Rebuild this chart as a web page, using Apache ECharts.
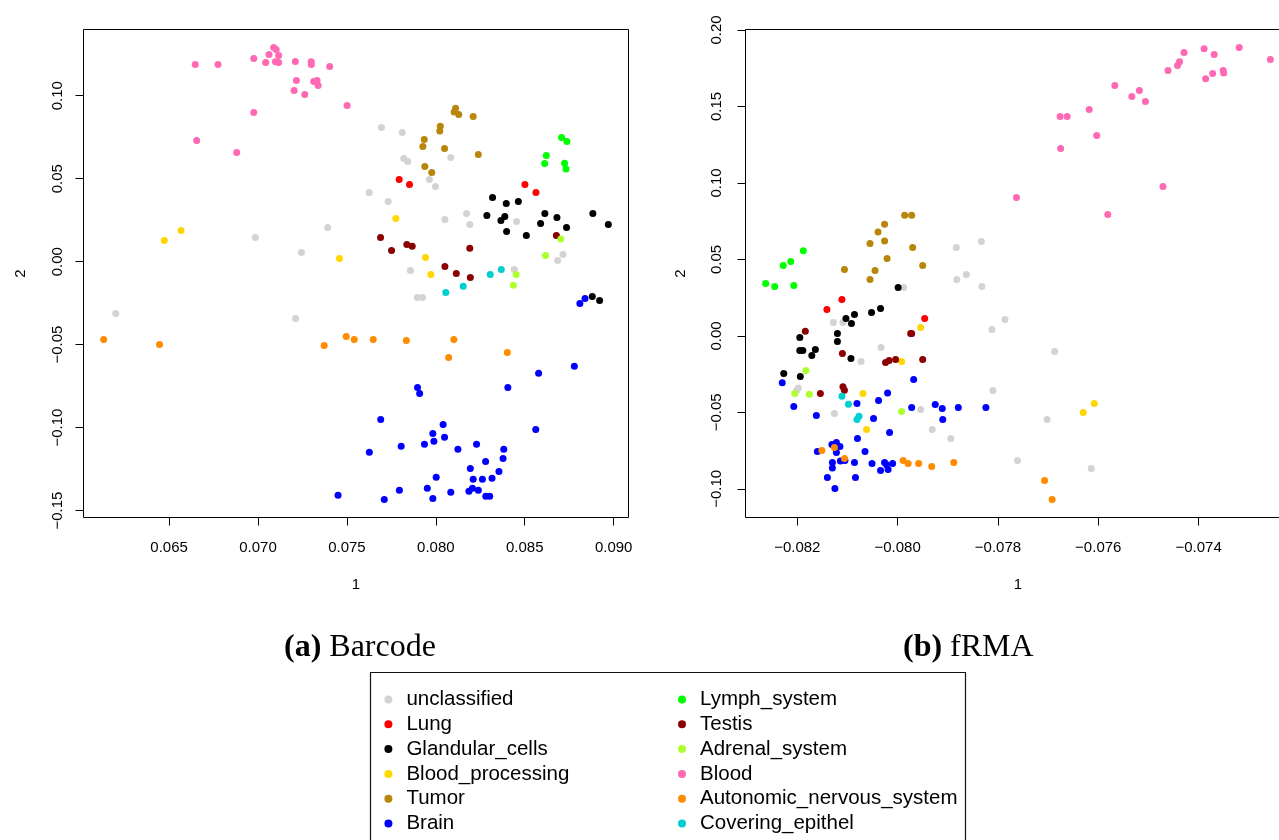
<!DOCTYPE html>
<html>
<head>
<meta charset="utf-8">
<script src="https://cdn.jsdelivr.net/npm/echarts@6/dist/echarts.min.js"></script>
<style>
  html, body { margin: 0; padding: 0; background: #ffffff; overflow: hidden; }
  /* the right-hand panel runs past the page edge, so the canvas is a little wider than the window */
  #chart { width: 1300px; height: 840px; }
</style>
</head>
<body>
<div id="chart"></div>
<script>
// ---- Category names (legend order, column by column) ----
const categories = [
  'unclassified', 'Lung', 'Glandular_cells', 'Blood_processing', 'Tumor', 'Brain',
  'Lymph_system', 'Testis', 'Adrenal_system', 'Blood', 'Autonomic_nervous_system', 'Covering_epithel'
];

// ---- Panel (a): Barcode, MDS coordinates [dim 1, dim 2] ----
const barcodeUnclassified = [[0.06200,-0.0312],[0.07211,-0.0342],[0.06985,0.0146],[0.07244,0.0055],[0.07392,0.0206],[0.07694,0.0808],[0.07811,0.0778],[0.07820,0.0622],[0.07842,0.0604],[0.08084,0.0628],[0.07964,0.0495],[0.07998,0.0453],[0.07625,0.0417],[0.07732,0.0363],[0.08051,0.0254],[0.08173,0.0290],[0.08191,0.0224],[0.08454,0.0242],[0.08715,0.0043],[0.08685,0.0007],[0.07857,-0.0053],[0.08441,-0.0047],[0.07896,-0.0216],[0.07925,-0.0216]];
const barcodeLung = [[0.07794,0.0495],[0.07852,0.0465],[0.08501,0.0465],[0.08563,0.0417]];
const barcodeGlandular = [[0.08319,0.0387],[0.08396,0.0351],[0.08464,0.0363],[0.08287,0.0278],[0.08388,0.0272],[0.08366,0.0248],[0.08398,0.0182],[0.08509,0.0158],[0.08613,0.0290],[0.08681,0.0266],[0.08589,0.0230],[0.08735,0.0206],[0.08883,0.0290],[0.08970,0.0224],[0.08880,-0.0210],[0.08921,-0.0234]];
const barcodeBloodProcessing = [[0.06567,0.0188],[0.06473,0.0128],[0.07458,0.0019],[0.07775,0.0260],[0.07942,0.0025],[0.07972,-0.0077]];
const barcodeTumor = [[0.08111,0.0925],[0.08103,0.0902],[0.08129,0.0887],[0.08210,0.0875],[0.08025,0.0816],[0.08022,0.0788],[0.07935,0.0736],[0.07927,0.0694],[0.08049,0.0682],[0.08239,0.0646],[0.07938,0.0573],[0.07977,0.0537]];
const barcodeBrain = [[0.08839,-0.0222],[0.08810,-0.0252],[0.08779,-0.0631],[0.08578,-0.0673],[0.07897,-0.0758],[0.07909,-0.0794],[0.08405,-0.0758],[0.07690,-0.0951],[0.08041,-0.0981],[0.07983,-0.1035],[0.08049,-0.1059],[0.08562,-0.1011],[0.07989,-0.1083],[0.07936,-0.1101],[0.07805,-0.1113],[0.07626,-0.1149],[0.08229,-0.1101],[0.08124,-0.1131],[0.08382,-0.1131],[0.08378,-0.1186],[0.08280,-0.1204],[0.08194,-0.1246],[0.08355,-0.1264],[0.08210,-0.1312],[0.08262,-0.1312],[0.08316,-0.1306],[0.08002,-0.1300],[0.07952,-0.1366],[0.07795,-0.1378],[0.08084,-0.1390],[0.08186,-0.1384],[0.08206,-0.1366],[0.08239,-0.1378],[0.08281,-0.1414],[0.08303,-0.1414],[0.07983,-0.1427],[0.07710,-0.1433],[0.07450,-0.1408]];
const barcodeLymph = [[0.08707,0.0748],[0.08737,0.0724],[0.08621,0.0640],[0.08612,0.0592],[0.08724,0.0593],[0.08732,0.0559]];
const barcodeTestis = [[0.07689,0.0146],[0.07751,0.0067],[0.07837,0.0104],[0.07867,0.0092],[0.08191,0.0080],[0.08051,-0.0029],[0.08115,-0.0071],[0.08194,-0.0095],[0.08678,0.0158]];
const barcodeAdrenal = [[0.08703,0.0137],[0.08617,0.0037],[0.08452,-0.0077],[0.08436,-0.0143]];
const barcodeBlood = [[0.06647,0.1188],[0.06775,0.1188],[0.06976,0.1224],[0.07043,0.1200],[0.07062,0.1248],[0.07088,0.1290],[0.07102,0.1278],[0.07116,0.1242],[0.07098,0.1204],[0.07116,0.1200],[0.07210,0.1206],[0.07299,0.1204],[0.07300,0.1188],[0.07403,0.1176],[0.07216,0.1092],[0.07313,0.1086],[0.07332,0.1092],[0.07338,0.1061],[0.07203,0.1031],[0.07263,0.1007],[0.07501,0.0941],[0.06976,0.0899],[0.06655,0.0730],[0.06880,0.0658]];
const barcodeAutonomic = [[0.06132,-0.0469],[0.06446,-0.0499],[0.07372,-0.0505],[0.07496,-0.0451],[0.07541,-0.0469],[0.07648,-0.0469],[0.07834,-0.0475],[0.08101,-0.0469],[0.08072,-0.0577],[0.08402,-0.0547]];
const barcodeCovering = [[0.08368,-0.0047],[0.08306,-0.0077],[0.08154,-0.0149],[0.08056,-0.0186]];

// ---- Panel (b): fRMA, MDS coordinates [dim 1, dim 2] ----
const frmaUnclassified = [[-0.07883,0.0578],[-0.07833,0.0617],[-0.07863,0.0401],[-0.07882,0.0369],[-0.07832,0.0323],[-0.07988,0.0316],[-0.08128,0.0088],[-0.08109,0.0088],[-0.07786,0.0107],[-0.07812,0.0042],[-0.08033,-0.0076],[-0.08073,-0.0167],[-0.08198,-0.0340],[-0.08201,-0.0355],[-0.07810,-0.0357],[-0.08126,-0.0507],[-0.07954,-0.0481],[-0.07931,-0.0612],[-0.07894,-0.0671],[-0.07761,-0.0814],[-0.07687,-0.0102],[-0.07702,-0.0546],[-0.07614,-0.0867]];
const frmaLung = [[-0.08111,0.0238],[-0.08141,0.0173],[-0.07946,0.0114]];
const frmaGlandular = [[-0.07999,0.0316],[-0.08052,0.0153],[-0.08034,0.0179],[-0.08103,0.0114],[-0.08086,0.0140],[-0.08092,0.0081],[-0.08120,0.0016],[-0.08120,-0.0037],[-0.08195,-0.0010],[-0.08195,-0.0095],[-0.08189,-0.0095],[-0.08164,-0.0089],[-0.08171,-0.0128],[-0.08093,-0.0148],[-0.08227,-0.0246],[-0.08194,-0.0265]];
const frmaBloodProcessing = [[-0.07954,0.0055],[-0.07992,-0.0167],[-0.08069,-0.0376],[-0.08062,-0.0612],[-0.07608,-0.0442],[-0.07630,-0.0501]];
const frmaTumor = [[-0.07986,0.0789],[-0.07972,0.0789],[-0.08026,0.0730],[-0.08039,0.0680],[-0.08055,0.0604],[-0.08026,0.0621],[-0.07970,0.0578],[-0.08021,0.0506],[-0.07950,0.0460],[-0.08106,0.0434],[-0.08045,0.0427],[-0.08055,0.0369]];
const frmaBrain = [[-0.08230,-0.0307],[-0.07968,-0.0285],[-0.08020,-0.0373],[-0.08038,-0.0422],[-0.08081,-0.0442],[-0.08207,-0.0461],[-0.08162,-0.0520],[-0.07972,-0.0468],[-0.07925,-0.0448],[-0.07911,-0.0475],[-0.07879,-0.0468],[-0.07824,-0.0468],[-0.07910,-0.0546],[-0.08048,-0.0540],[-0.08016,-0.0631],[-0.08080,-0.0671],[-0.08131,-0.0710],[-0.08122,-0.0697],[-0.08115,-0.0723],[-0.08122,-0.0762],[-0.08160,-0.0756],[-0.08065,-0.0756],[-0.08114,-0.0817],[-0.08105,-0.0814],[-0.08130,-0.0827],[-0.08130,-0.0863],[-0.08086,-0.0827],[-0.08051,-0.0834],[-0.08026,-0.0827],[-0.08022,-0.0843],[-0.08010,-0.0834],[-0.08034,-0.0880],[-0.08019,-0.0873],[-0.08140,-0.0926],[-0.08084,-0.0926],[-0.08125,-0.0997]];
const frmaLymph = [[-0.08188,0.0556],[-0.08213,0.0486],[-0.08228,0.0460],[-0.08263,0.0342],[-0.08245,0.0323],[-0.08207,0.0329]];
const frmaTestis = [[-0.08184,0.0031],[-0.07974,0.0016],[-0.07972,0.0016],[-0.08110,-0.0115],[-0.08024,-0.0174],[-0.08017,-0.0161],[-0.08004,-0.0154],[-0.07950,-0.0154],[-0.08109,-0.0333],[-0.08106,-0.0355],[-0.08154,-0.0376]];
const frmaAdrenal = [[-0.08183,-0.0226],[-0.08205,-0.0376],[-0.08176,-0.0381],[-0.07992,-0.0494]];
const frmaBlood = [[-0.07319,0.1885],[-0.07257,0.1807],[-0.07429,0.1852],[-0.07389,0.1878],[-0.07369,0.1839],[-0.07438,0.1793],[-0.07442,0.1767],[-0.07461,0.1735],[-0.07372,0.1715],[-0.07351,0.1735],[-0.07350,0.1719],[-0.07386,0.1682],[-0.07567,0.1637],[-0.07518,0.1604],[-0.07533,0.1565],[-0.07506,0.1532],[-0.07618,0.1480],[-0.07676,0.1434],[-0.07662,0.1434],[-0.07603,0.1310],[-0.07675,0.1225],[-0.07471,0.0976],[-0.07763,0.0905],[-0.07581,0.0793]];
const frmaAutonomic = [[-0.08151,-0.0749],[-0.08126,-0.0729],[-0.08106,-0.0801],[-0.07989,-0.0814],[-0.07979,-0.0834],[-0.07958,-0.0834],[-0.07932,-0.0854],[-0.07888,-0.0827],[-0.07707,-0.0945],[-0.07692,-0.1069]];
const frmaCovering = [[-0.08111,-0.0394],[-0.08098,-0.0446],[-0.08077,-0.0525],[-0.08081,-0.0546]];

// ---- Tick values ----
const barcodeXTicks = [0.065, 0.070, 0.075, 0.080, 0.085, 0.090];
const barcodeYTicks = [-0.15, -0.10, -0.05, 0.00, 0.05, 0.10];
const frmaXTicks = [-0.082, -0.080, -0.078, -0.076, -0.074];
const frmaYTicks = [-0.10, -0.05, 0.00, 0.05, 0.10, 0.15, 0.20];

// ---- Panel captions and axis titles ----
const captions = [['(a)', 'Barcode'], ['(b)', 'fRMA']];
const axisTitles = ['1', '2'];

// ---- Styling ----
const colors = {
  unclassified: '#D3D3D3', Lung: '#FF0000', Glandular_cells: '#000000', Blood_processing: '#FFD700',
  Tumor: '#B8860B', Brain: '#0000FF', Lymph_system: '#00FF00', Testis: '#8B0000',
  Adrenal_system: '#ADFF2F', Blood: '#FF69B4', Autonomic_nervous_system: '#FF8C00', Covering_epithel: '#00CED1'
};
const SANS = 'Liberation Sans, Arial, Helvetica, sans-serif';
const SERIF = 'Liberation Serif, Times New Roman, serif';

const barcodeSets = [barcodeUnclassified, barcodeLung, barcodeGlandular, barcodeBloodProcessing, barcodeTumor, barcodeBrain,
  barcodeLymph, barcodeTestis, barcodeAdrenal, barcodeBlood, barcodeAutonomic, barcodeCovering];
const frmaSets = [frmaUnclassified, frmaLung, frmaGlandular, frmaBloodProcessing, frmaTumor, frmaBrain,
  frmaLymph, frmaTestis, frmaAdrenal, frmaBlood, frmaAutonomic, frmaCovering];

// Axis limits like base R graphics: data range widened by 4% on each side
function paddedRange(sets, dim) {
  const vals = sets.flat().map(p => p[dim]);
  const lo = Math.min(...vals), hi = Math.max(...vals), pad = 0.04 * (hi - lo);
  return [lo - pad, hi + pad];
}
const fmt = digits => v => (v < 0 ? '\u2212' : '') + Math.abs(v).toFixed(digits);

function xAxisFor(gridIndex, sets, ticks, digits) {
  const [min, max] = paddedRange(sets, 0);
  return {
    type: 'value', gridIndex, min, max,
    axisLine: { show: false, onZero: false }, splitLine: { show: false },
    axisTick: { show: true, customValues: ticks, length: 8, lineStyle: { color: '#000', width: 1 } },
    axisLabel: { customValues: ticks, formatter: fmt(digits), margin: 23, fontSize: 15, color: '#000', fontFamily: SANS },
    name: axisTitles[0], nameLocation: 'middle', nameGap: 60,
    nameTextStyle: { fontSize: 15, color: '#000', fontFamily: SANS }
  };
}
function yAxisFor(gridIndex, sets, ticks, digits, labelMargin, nameGap) {
  const [min, max] = paddedRange(sets, 1);
  return {
    type: 'value', gridIndex, min, max,
    axisLine: { show: false, onZero: false }, splitLine: { show: false },
    axisTick: { show: true, customValues: ticks, length: 8, lineStyle: { color: '#000', width: 1 } },
    axisLabel: { customValues: ticks, formatter: fmt(digits), rotate: 90, margin: labelMargin, fontSize: 15, color: '#000', fontFamily: SANS },
    name: axisTitles[1], nameLocation: 'middle', nameGap,
    nameTextStyle: { fontSize: 15, color: '#000', fontFamily: SANS }
  };
}

const series = [];
categories.forEach((name, i) => {
  [barcodeSets, frmaSets].forEach((sets, panel) => {
    series.push({
      type: 'scatter', name, xAxisIndex: panel, yAxisIndex: panel,
      data: sets[i], symbol: 'circle', symbolSize: 7,
      itemStyle: { color: colors[name], opacity: 1 },
      emphasis: { disabled: true }
    });
  });
});

const legendBase = {
  orient: 'vertical', top: 689, itemWidth: 8, itemHeight: 8, itemGap: 3.8, icon: 'circle',
  padding: 0, selectedMode: false,
  textStyle: { fontSize: 20.5, lineHeight: 20, fontFamily: SANS, color: '#000', padding: [0, 0, 0, 9] }
};

const chart = echarts.init(document.getElementById('chart'), null, { renderer: 'canvas' });
chart.setOption({
  animation: false,
  backgroundColor: '#ffffff',
  title: captions.map((c, i) => ({
    text: '{b|' + c[0] + '} ' + c[1],
    left: i === 0 ? 284 : 903, top: 632, padding: 0,
    textStyle: {
      fontFamily: SERIF, fontSize: 32, fontWeight: 'normal', color: '#000',
      rich: { b: { fontFamily: SERIF, fontSize: 32, fontWeight: 'bold', color: '#000' } }
    }
  })),
  grid: [
    { left: 83.5, top: 29.5, width: 545, height: 488, show: true, borderColor: '#000', borderWidth: 1, backgroundColor: 'transparent' },
    { left: 745.5, top: 29.5, width: 545, height: 488, show: true, borderColor: '#000', borderWidth: 1, backgroundColor: 'transparent' }
  ],
  xAxis: [
    xAxisFor(0, barcodeSets, barcodeXTicks, 3),
    xAxisFor(1, frmaSets, frmaXTicks, 3)
  ],
  yAxis: [
    yAxisFor(0, barcodeSets, barcodeYTicks, 2, 18, 55),
    yAxisFor(1, frmaSets, frmaYTicks, 2, 21, 57)
  ],
  legend: [
    Object.assign({}, legendBase, { left: 384.4, data: categories.slice(0, 6) }),
    Object.assign({}, legendBase, { left: 678, data: categories.slice(6) })
  ],
  graphic: [{
    type: 'rect', silent: true,
    shape: { x: 370.5, y: 672.5, width: 595, height: 200 },
    style: { fill: 'none', stroke: '#111', lineWidth: 1.2 }
  }],
  series
});
</script>
</body>
</html>
